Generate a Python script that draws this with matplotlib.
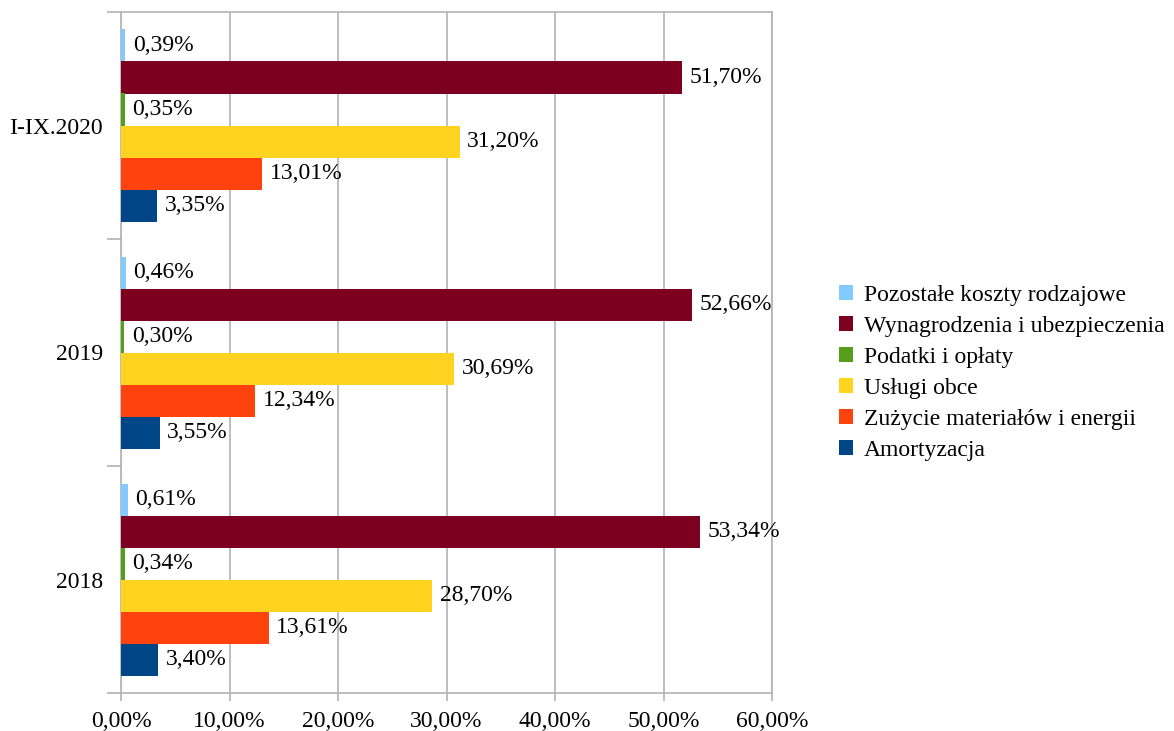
import matplotlib
matplotlib.use('Agg')
import matplotlib.pyplot as plt
import numpy as np

plt.rcParams['font.family'] = ['Liberation Serif', 'DejaVu Serif']

# Data (bottom -> top categories)
categories = ['2018', '2019', 'I-IX.2020']
series_names = ['Pozostałe koszty rodzajowe', 'Wynagrodzenia i ubezpieczenia',
                'Podatki i opłaty', 'Usługi obce',
                'Zużycie materiałów i energii', 'Amortyzacja']
pozostale = [0.61, 0.46, 0.39]
wynagrodzenia = [53.34, 52.66, 51.70]
podatki = [0.34, 0.30, 0.35]
uslugi = [28.70, 30.69, 31.20]
zuzycie = [13.61, 12.34, 13.01]
amortyzacja = [3.40, 3.55, 3.35]
series_values = [pozostale, wynagrodzenia, podatki, uslugi, zuzycie, amortyzacja]
colors = ['#83CAFF', '#7E0021', '#579D1C', '#FFD320', '#FF420E', '#004586']
x_ticks = [0, 10, 20, 30, 40, 50, 60]

FS = 17

fig = plt.figure(figsize=(11.74, 7.31), dpi=100)
ax = fig.add_axes([121 / 1174, 1 - 693 / 731, (772 - 121) / 1174, (693 - 12) / 731])

n = len(series_names)
bar_h = 32 / 227
y_base = np.arange(len(categories))
# series 0 is on top within each group
handles = []
for i, (name, vals, col) in enumerate(zip(series_names, series_values, colors)):
    offs = (n - 1) / 2 - i
    ys = y_base + offs * bar_h
    b = ax.barh(ys, vals, height=bar_h, color=col, label=name, zorder=3)
    handles.append(b)
    for y, v in zip(ys, vals):
        ax.text(v + 0.7, y, f'{v:.2f}%'.replace('.', ','), va='center', ha='left',
                fontsize=FS, zorder=4)

ax.set_xlim(0, 60)
ax.set_ylim(-0.5, len(categories) - 0.5)
ax.set_xticks(x_ticks)
ax.set_xticklabels([f'{t:.2f}%'.replace('.', ',') for t in x_ticks], fontsize=FS)
ax.set_yticks(y_base)
ax.set_yticklabels(categories, fontsize=FS)
ax.set_yticks(np.arange(-0.5, len(categories), 1), minor=True)
ax.tick_params(axis='y', which='major', length=0, pad=13)
ax.tick_params(axis='y', which='minor', length=10, color='#b3b3b3', width=1.2)
ax.tick_params(axis='x', which='major', length=6, color='#b3b3b3', width=1.2, pad=7)
ax.xaxis.grid(True, color='#b3b3b3', linewidth=1.2, zorder=0)
for s in ax.spines.values():
    s.set_color('#b3b3b3')
    s.set_linewidth(1.2)

# legend order as in reference (Pozostałe on top)
ax.legend(handles=handles, labels=series_names, loc='center left',
          bbox_to_anchor=(839 / 1174, 1 - 373 / 731), bbox_transform=fig.transFigure,
          frameon=False, fontsize=FS, handlelength=0.6, handleheight=0.6,
          handletextpad=0.45, labelspacing=0.42, borderaxespad=0, borderpad=0)

fig.savefig('out.png', dpi=100)
